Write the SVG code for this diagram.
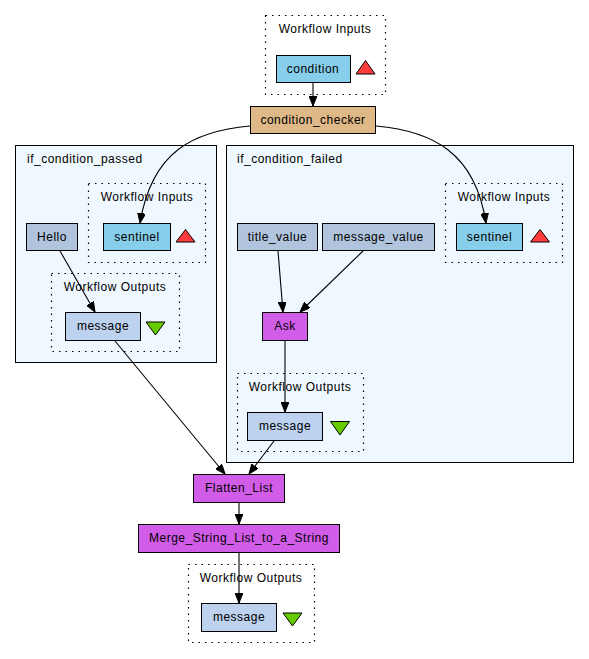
<svg xmlns="http://www.w3.org/2000/svg" width="589" height="659" viewBox="0 0 589 659">
<defs>
<marker id="ah" markerWidth="10" markerHeight="8" refX="10" refY="4" orient="auto" markerUnits="userSpaceOnUse">
<path d="M0,0 L10,4 L0,8 Z" fill="#000" stroke="#000" stroke-width="1"/>
</marker>
<style>
text{font-family:"Liberation Sans",Arial,sans-serif;font-size:12px;letter-spacing:0.5px;fill:#000}
.c{text-anchor:middle}
.cl{fill:#f0f8ff;stroke:#000;stroke-width:1}
.dot{fill:none;stroke:#000;stroke-width:1.2;stroke-dasharray:1.5,5}
.n{stroke:#000;stroke-width:1}
.inp{fill:#87ceeb}
.step{fill:#b0c4de}
.out{fill:#bcd2ee}
.tool{fill:#d05ce8}
.chk{fill:#deb887}
.up{fill:#ff3b3b;stroke:#000;stroke-width:1}
.dn{fill:#66cc00;stroke:#000;stroke-width:1}
.e{fill:none;stroke:#000;stroke-width:1.1;marker-end:url(#ah)}
</style>
</defs>
<rect width="589" height="659" fill="#fff"/>

<g id="cluster_inputs_top">
<rect class="dot" x="265.5" y="15.5" width="120" height="79"/>
<text class="c" x="325" y="33">Workflow Inputs</text>
</g>
<g id="cluster_passed">
<rect class="cl" x="15.5" y="145.5" width="201" height="217"/>
<text x="27" y="163">if_condition_passed</text>
<rect class="dot" x="88.5" y="183.5" width="117" height="79"/>
<text class="c" x="147" y="201">Workflow Inputs</text>
<rect class="dot" x="51.5" y="273.5" width="128" height="78"/>
<text class="c" x="115" y="291">Workflow Outputs</text>
</g>
<g id="cluster_failed">
<rect class="cl" x="226.5" y="145.5" width="347" height="317"/>
<text x="237" y="163">if_condition_failed</text>
<rect class="dot" x="445.5" y="183.5" width="117" height="79"/>
<text class="c" x="504" y="201">Workflow Inputs</text>
<rect class="dot" x="237.5" y="373.5" width="126" height="78"/>
<text class="c" x="300" y="391">Workflow Outputs</text>
</g>
<g id="cluster_outputs_bottom">
<rect class="dot" x="188.5" y="564.5" width="126" height="78"/>
<text class="c" x="251" y="582">Workflow Outputs</text>
</g>

<g id="condition">
<rect class="n inp" x="276.5" y="55.5" width="74" height="27"/>
<text class="c" x="313" y="73">condition</text>
<polygon class="up" points="365.5,60.5 375,74 356,74"/>
</g>
<g id="condition_checker">
<rect class="n chk" x="250.5" y="106.5" width="125" height="27"/>
<text class="c" x="313" y="124">condition_checker</text>
</g>
<g id="sentinel_passed">
<rect class="n inp" x="103.5" y="223.5" width="67" height="27"/>
<text class="c" x="137" y="241">sentinel</text>
<polygon class="up" points="185.5,229.5 195,242 176,242"/>
</g>
<g id="Hello">
<rect class="n step" x="26.5" y="223.5" width="51" height="27"/>
<text class="c" x="52" y="241">Hello</text>
</g>
<g id="message_passed">
<rect class="n out" x="65.5" y="312.5" width="75" height="28"/>
<text class="c" x="103" y="330">message</text>
<polygon class="dn" points="146,322 165,322 155.5,335"/>
</g>
<g id="title_value">
<rect class="n step" x="237.5" y="223.5" width="80" height="27"/>
<text class="c" x="277.5" y="241">title_value</text>
</g>
<g id="message_value">
<rect class="n step" x="322.5" y="223.5" width="112" height="27"/>
<text class="c" x="378.5" y="241">message_value</text>
</g>
<g id="sentinel_failed">
<rect class="n inp" x="456.5" y="223.5" width="66" height="27"/>
<text class="c" x="489.5" y="241">sentinel</text>
<polygon class="up" points="540,229.5 549.5,242 530.5,242"/>
</g>
<g id="Ask">
<rect class="n tool" x="262.5" y="312.5" width="45" height="28"/>
<text class="c" x="285" y="330">Ask</text>
</g>
<g id="message_failed">
<rect class="n out" x="247.5" y="412.5" width="75" height="28"/>
<text class="c" x="285" y="430">message</text>
<polygon class="dn" points="330.5,421.5 349.5,421.5 340,435"/>
</g>
<g id="Flatten_List">
<rect class="n tool" x="193.5" y="474.5" width="91" height="28"/>
<text class="c" x="239" y="492">Flatten_List</text>
</g>
<g id="Merge_String_List_to_a_String">
<rect class="n tool" x="138.5" y="524.5" width="201" height="28"/>
<text class="c" x="239" y="542">Merge_String_List_to_a_String</text>
</g>
<g id="message_final">
<rect class="n out" x="201.5" y="603.5" width="75" height="28"/>
<text class="c" x="239" y="621">message</text>
<polygon class="dn" points="283,613 302,613 292.5,626"/>
</g>

<g id="connectors">
<path class="e" d="M313,83 L313,106"/>
<path class="e" d="M250,126 C195,131 152,150 140,223"/>
<path class="e" d="M376,126 C432,131 475,152 486,223"/>
<path class="e" d="M60,251 L95,312"/>
<path class="e" d="M115,341 L225,474"/>
<path class="e" d="M278,251 L283,312"/>
<path class="e" d="M363,251 L300,312"/>
<path class="e" d="M285,341 L285,412"/>
<path class="e" d="M274,441 L249,474"/>
<path class="e" d="M239,502 L239,524"/>
<path class="e" d="M239,552 L239,603"/>
</g>
</svg>
